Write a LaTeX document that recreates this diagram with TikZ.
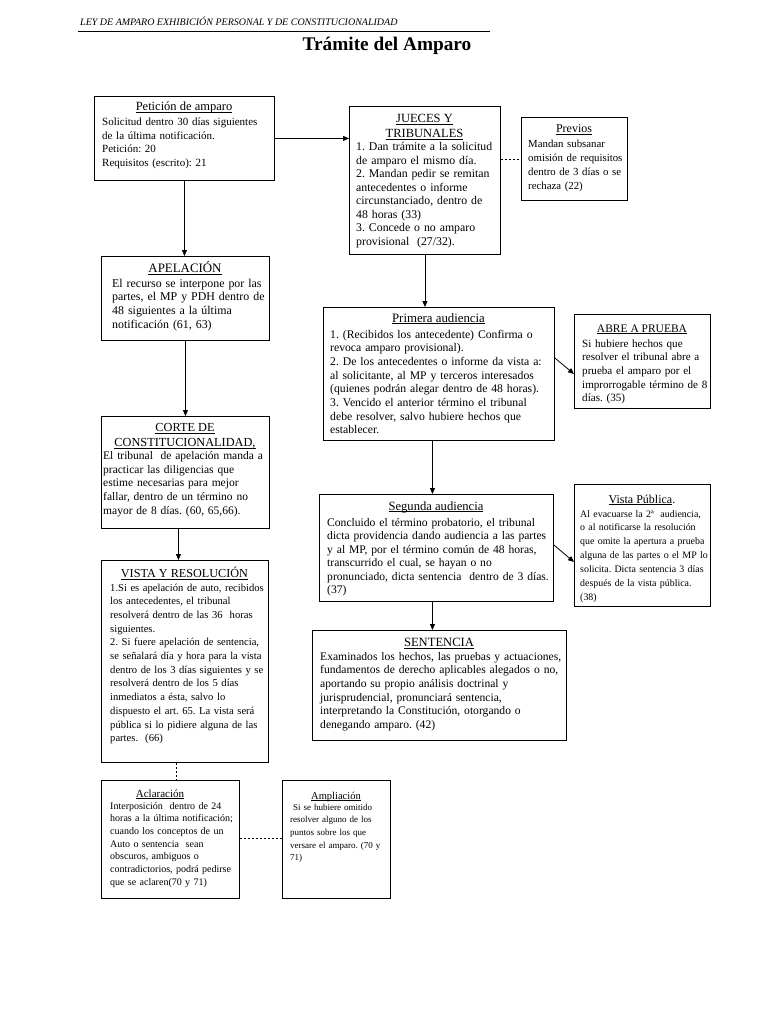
\documentclass[tikz,border=0pt]{standalone}
\usepackage{fontspec}
\setmainfont{Liberation Serif}
\usetikzlibrary{arrows.meta,calc}
\frenchspacing
\tikzset{
  box/.style={draw=black, line width=0.9pt, anchor=north west, inner sep=0pt},
  txt/.style={anchor=base west, inner sep=0pt, align=left, text width=260pt},
  ttl/.style={anchor=base, inner sep=0pt},
  arr/.style={line width=0.8pt, -{Triangle[length=6pt,width=5pt]}},
  dsh/.style={line width=0.7pt, dash pattern=on 2pt off 2pt},
}
\newcommand{\fs}[2]{\fontsize{#1}{#2}\selectfont}
\newcommand{\ul}[1]{\setbox0=\hbox{#1}\rlap{\rule[-2pt]{\wd0}{0.6pt}}\box0}
\begin{document}
\begin{tikzpicture}[x=1pt,y=-1pt]
\fill[white] (0,0) rectangle (768,1024);
\useasboundingbox (0,0) rectangle (768,1024);

% header
\node[anchor=base west, inner sep=0pt, font=\fs{10}{12}\itshape] (hdr) at (80,26) {LEY DE AMPARO EXHIBICIÓN PERSONAL Y DE CONSTITUCIONALIDAD};
\draw[line width=0.8pt] (78,31) -- (490,31);
\node[ttl, font=\fs{19.3}{22}\bfseries] (title) at (387,51) {Trámite del Amparo};

% boxes
\node[box, minimum width=180pt, minimum height=84pt] (pet) at (94,96) {};
\node[box, minimum width=151pt, minimum height=148pt] (jue) at (349,106) {};
\node[box, minimum width=106pt, minimum height=83pt] (pre) at (521,117) {};
\node[box, minimum width=168pt, minimum height=84pt] (ape) at (101,256) {};
\node[box, minimum width=231pt, minimum height=133pt] (pri) at (323,307) {};
\node[box, minimum width=136pt, minimum height=94pt] (abr) at (574,314) {};
\node[box, minimum width=168pt, minimum height=112pt] (cor) at (101,416) {};
\node[box, minimum width=234pt, minimum height=107pt] (seg) at (319,494) {};
\node[box, minimum width=136pt, minimum height=122pt] (vpu) at (574,484) {};
\node[box, minimum width=167pt, minimum height=202pt] (vyr) at (101,560) {};
\node[box, minimum width=254pt, minimum height=110pt] (sen) at (312,630) {};
\node[box, minimum width=138pt, minimum height=118pt] (acl) at (101,780) {};
\node[box, minimum width=108pt, minimum height=118pt] (amp) at (282,780) {};

% Peticion
\node[ttl, font=\fs{12.5}{14}] (petT) at (184,110.5) {\ul{Petición de amparo}};
\node[txt, font=\fs{11}{13.4}] (petB) at (102,126) {Solicitud dentro 30 días siguientes\\de la última notificación.\\Petición: 20\\Requisitos (escrito): 21};

% Jueces
\node[ttl, font=\fs{12.5}{15}] (jueT1) at (424.5,122.5) {\ul{JUECES Y}};
\node[ttl, font=\fs{12.5}{15}] (jueT2) at (424.5,137.5) {\ul{TRIBUNALES}};
\node[txt, font=\fs{11.8}{13.5}] (jueB) at (356,151) {1. Dan trámite a la solicitud\\de amparo el mismo día.\\2. Mandan pedir se remitan\\antecedentes o informe\\circunstanciado, dentro de\\48 horas (33)\\3. Concede o no amparo\\provisional\ \ (27/32).};

% Previos
\node[ttl, font=\fs{12}{14}] (preT) at (574,133) {\ul{Previos}};
\node[txt, font=\fs{10.8}{14}] (preB) at (528,148) {Mandan subsanar\\omisión de requisitos\\dentro de 3 días o se\\rechaza (22)};

% Apelacion
\node[ttl, font=\fs{12.9}{15}] (apeT) at (185,272.5) {\ul{APELACIÓN}};
\node[txt, font=\fs{11.9}{13.7}] (apeB) at (112,287) {El recurso se interpone por las\\partes, el MP y PDH dentro de\\48 siguientes a la última\\notificación (61, 63)};

% Primera audiencia
\node[ttl, font=\fs{12.8}{15}] (priT) at (438.5,322) {\ul{Primera audiencia}};
\node[txt, font=\fs{11.7}{13.7}] (priB) at (330,338) {1. (Recibidos los antecedente) Confirma o\\revoca amparo provisional).\\2. De los antecedentes o informe da vista a:\\al solicitante, al MP y terceros interesados\\(quienes podrán alegar dentro de 48 horas).\\3. Vencido el anterior término el tribunal\\debe resolver, salvo hubiere hechos que\\establecer.};

% Abre a prueba
\node[ttl, font=\fs{11.5}{14}] (abrT) at (642,332) {\ul{ABRE A PRUEBA}};
\node[txt, font=\fs{11.1}{13.7}] (abrB) at (582,347) {Si hubiere hechos que\\resolver el tribunal abre a\\prueba el amparo por el\\improrrogable término de 8\\días. (35)};

% Corte
\node[ttl, font=\fs{12.3}{15}] (corT1) at (185,431.5) {\ul{CORTE DE}};
\node[ttl, font=\fs{12.3}{15}] (corT2) at (185,446.5) {\ul{CONSTITUCIONALIDAD,}};
\node[txt, font=\fs{11.5}{13.7}] (corB) at (103,459.5) {El tribunal\ \ de apelación manda a\\practicar las diligencias que\\estime necesarias para mejor\\fallar, dentro de un término no\\mayor de 8 días. (60, 65,66).};

% Segunda audiencia
\node[ttl, font=\fs{12.6}{15}] (segT) at (436,510) {\ul{Segunda audiencia}};
\node[txt, font=\fs{11.6}{13.5}] (segB) at (327,526) {Concluido el término probatorio, el tribunal\\dicta providencia dando audiencia a las partes\\y al MP, por el término común de 48 horas,\\transcurrido el cual, se hayan o no\\pronunciado, dicta sentencia\ \ dentro de 3 días.\\(37)};

% Vista publica
\node[ttl, font=\fs{12}{14}] (vpuT) at (642,503) {\ul{Vista Pública}.};
\node[txt, font=\fs{9.9}{13.9}] (vpuB) at (580,517) {Al evacuarse la 2ª\ \ audiencia,\\o al notificarse la resolución\\que omite la apertura a prueba\\alguna de las partes o el MP lo\\solicita. Dicta sentencia 3 días\\después de la vista pública.\\(38)};

% Vista y resolucion
\node[ttl, font=\fs{12.2}{15}] (vyrT) at (184.5,577.5) {\ul{VISTA Y RESOLUCIÓN}};
\node[txt, font=\fs{10.6}{13.7}] (vyrB) at (110,591) {1.Si es apelación de auto, recibidos\\los antecedentes, el tribunal\\resolverá dentro de las 36\ \ horas\\siguientes.\\2. Si fuere apelación de sentencia,\\se señalará día y hora para la vista\\dentro de los 3 días siguientes y se\\resolverá dentro de los 5 días\\inmediatos a ésta, salvo lo\\dispuesto el art. 65. La vista será\\pública si lo pidiere alguna de las\\partes.\ \ (66)};

% Sentencia
\node[ttl, font=\fs{12.6}{15}] (senT) at (439,646.5) {\ul{SENTENCIA}};
\node[txt, font=\fs{11.6}{13.7}] (senB) at (320,660) {Examinados los hechos, las pruebas y actuaciones,\\fundamentos de derecho aplicables alegados o no,\\aportando su propio análisis doctrinal y\\jurisprudencial, pronunciará sentencia,\\interpretando la Constitución, otorgando o\\denegando amparo. (42)};

% Aclaracion
\node[ttl, font=\fs{11}{13}] (aclT) at (160,797) {\ul{Aclaración}};
\node[txt, font=\fs{10}{12.7}] (aclB) at (110,809) {Interposición\ \ dentro de 24\\horas a la última notificación;\\cuando los conceptos de un\\Auto o sentencia\ \ sean\\obscuros, ambiguos o\\contradictorios, podrá pedirse\\que se aclaren(70 y 71)};

% Ampliacion
\node[ttl, font=\fs{10.5}{13}] (ampT) at (336,799) {\ul{Ampliación}};
\node[txt, font=\fs{9}{12.7}] (ampB) at (290,810) {\ Si se hubiere omitido\\resolver alguno de los\\puntos sobre los que\\versare el amparo. (70 y\\71)};

% connectors
\draw[arr] (pet.east) -- (pet.east -| jue.west);
\draw[arr] (pet.south) -- (pet.south |- ape.north);
\draw[dsh] (pre.west -| jue.east) -- (pre.west);
\draw[arr] (jue.south) -- (jue.south |- pri.north);
\draw[arr] ([yshift=-51pt]pri.north east) -- ([yshift=-60pt]abr.north west);
\draw[arr] ([yshift=-51pt]seg.north east) -- ([yshift=-78pt]vpu.north west);
\draw[arr] (ape.south) -- (ape.south |- cor.north);
\draw[arr] ([xshift=-6.5pt]pri.south) -- ([xshift=-6.5pt]pri.south |- seg.north);
\draw[arr] ([xshift=-4pt]seg.south) -- ([xshift=-4pt]seg.south |- sen.north);
\draw[arr] ([xshift=-7pt]cor.south) -- ([xshift=-7pt]cor.south |- vyr.north);
\draw[dsh] ([xshift=-8.5pt]vyr.south) -- ([xshift=-8.5pt]vyr.south |- acl.north);
\draw[dsh] ([yshift=-58pt]acl.north east) -- ([yshift=-58pt]acl.north east -| amp.west);
\end{tikzpicture}
\end{document}
